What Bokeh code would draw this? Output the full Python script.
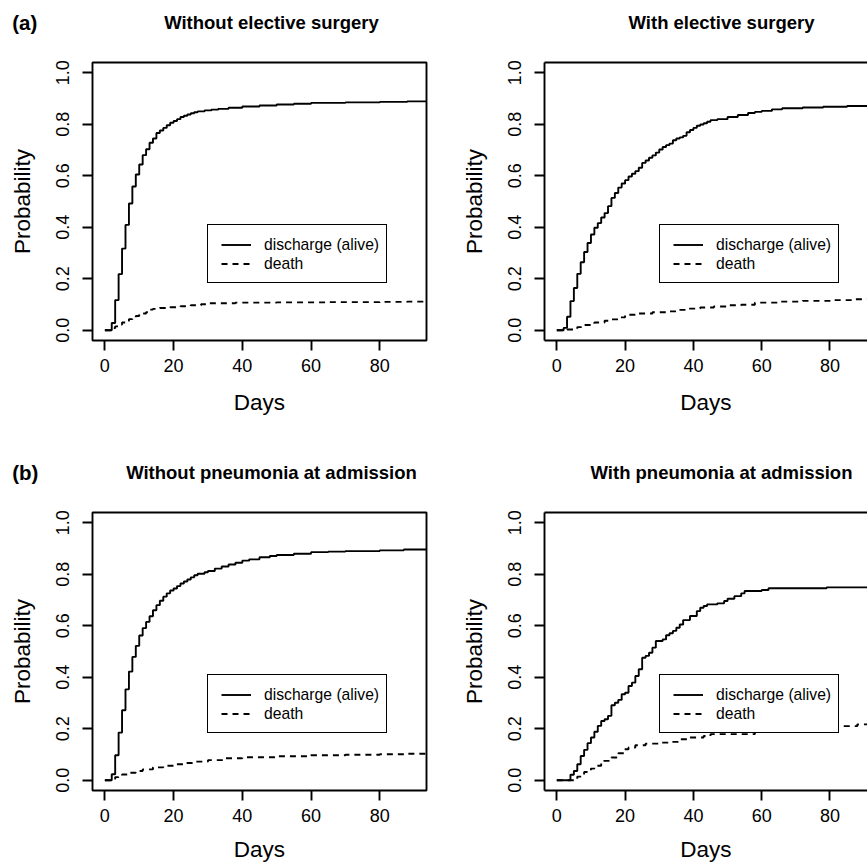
from bokeh.plotting import figure
from bokeh.models import (Range1d, FixedTicker, PrintfTickFormatter, Legend,
                          LegendItem, LinearAxis)
from bokeh.core.properties import value
from bokeh.layouts import column, row
from bokeh.embed import file_html
from bokeh.resources import INLINE

FONT = "Liberation Sans"

# ---------------- data ----------------
x_ticks = [0, 20, 40, 60, 80]
y_ticks = [0.0, 0.2, 0.4, 0.6, 0.8, 1.0]
x_label = "Days"
y_label = "Probability"
legend_labels = ["discharge (alive)", "death"]

titles = ["Without elective surgery", "With elective surgery",
          "Without pneumonia at admission", "With pneumonia at admission"]
tags = ["(a)", "", "(b)", ""]

# Panel A: without elective surgery
a_dis_t = [0, 2, 3, 4, 5, 6, 7, 8, 9, 10, 11, 12, 13, 14, 15, 16, 17, 18, 19, 20,
           21, 22, 23, 24, 25, 26, 27, 29, 31, 33, 36, 40, 45, 50, 55, 60, 70, 80, 88]
a_dis_v = [0, 0.028, 0.117, 0.218, 0.317, 0.409, 0.492, 0.558, 0.605, 0.644, 0.680,
           0.703, 0.728, 0.745, 0.766, 0.776, 0.786, 0.796, 0.806, 0.813, 0.820, 0.828,
           0.833, 0.838, 0.843, 0.847, 0.850, 0.854, 0.857, 0.860, 0.864, 0.869, 0.873,
           0.877, 0.880, 0.883, 0.885, 0.887, 0.889]
a_dth_t = [0, 2, 3, 4, 5, 6, 7, 8, 9, 10, 11, 12, 13, 14, 16, 19, 22, 25, 28, 30,
           38, 50, 65, 80, 88]
a_dth_v = [0, 0.008, 0.015, 0.022, 0.030, 0.036, 0.043, 0.049, 0.055, 0.060, 0.065,
           0.070, 0.080, 0.083, 0.086, 0.089, 0.093, 0.097, 0.101, 0.105, 0.107, 0.108,
           0.109, 0.110, 0.111]

# Panel B: with elective surgery
b_dis_t = [0, 2, 3, 4, 5, 6, 7, 8, 9, 10, 11, 12, 13, 14, 15, 16, 17, 18, 19, 20,
           21, 22, 23, 24, 25, 26, 27, 28, 29, 30, 31, 32, 33, 34, 35, 36, 37, 38, 39,
           40, 41, 42, 43, 44, 45, 47, 50, 53, 56, 58, 60, 63, 66, 72, 78, 85]
b_dis_v = [0, 0.009, 0.052, 0.113, 0.164, 0.219, 0.264, 0.304, 0.339, 0.372, 0.398,
           0.416, 0.438, 0.455, 0.482, 0.514, 0.533, 0.554, 0.570, 0.583, 0.597, 0.608,
           0.618, 0.631, 0.650, 0.659, 0.670, 0.679, 0.690, 0.702, 0.712, 0.719, 0.725,
           0.738, 0.745, 0.749, 0.755, 0.769, 0.778, 0.786, 0.794, 0.799, 0.804, 0.810,
           0.816, 0.820, 0.828, 0.836, 0.844, 0.848, 0.852, 0.858, 0.862, 0.865, 0.868,
           0.871]
b_dth_t = [0, 3, 6, 8, 11, 14, 16, 18, 20, 24, 28, 32, 35, 38, 42, 46, 50, 54, 58,
           65, 72, 80, 87]
b_dth_v = [0, 0.003, 0.012, 0.020, 0.030, 0.037, 0.042, 0.050, 0.060, 0.065, 0.070,
           0.073, 0.079, 0.084, 0.088, 0.092, 0.097, 0.099, 0.107, 0.111, 0.114, 0.117,
           0.120]

# Panel C: without pneumonia at admission
c_dis_t = [0, 2, 3, 4, 5, 6, 7, 8, 9, 10, 11, 12, 13, 14, 15, 16, 17, 18, 19, 20,
           21, 22, 23, 24, 25, 26, 27, 29, 30, 32, 34, 36, 38, 40, 42, 45, 48, 50, 55,
           60, 65, 70, 80, 87]
c_dis_v = [0, 0.023, 0.097, 0.185, 0.272, 0.353, 0.422, 0.479, 0.522, 0.562, 0.591,
           0.615, 0.637, 0.660, 0.680, 0.697, 0.713, 0.726, 0.737, 0.745, 0.754, 0.764,
           0.772, 0.780, 0.788, 0.796, 0.802, 0.808, 0.813, 0.822, 0.830, 0.838, 0.845,
           0.853, 0.858, 0.866, 0.871, 0.875, 0.880, 0.886, 0.888, 0.890, 0.893, 0.896]
c_dth_t = [0, 2, 3, 4, 5, 7, 9, 11, 14, 17, 20, 23, 26, 30, 35, 40, 50, 60, 70, 80, 88]
c_dth_v = [0, 0.005, 0.012, 0.017, 0.022, 0.029, 0.036, 0.042, 0.050, 0.056, 0.062,
           0.067, 0.072, 0.078, 0.085, 0.089, 0.093, 0.097, 0.099, 0.101, 0.103]

# Panel D: with pneumonia at admission
d_dis_t = [0, 4, 5, 6, 7, 8, 9, 10, 11, 12, 13, 14, 15, 16, 17, 18, 19, 20, 21, 22,
           23, 24, 25, 26, 27, 28, 29, 31, 32, 33, 34, 35, 36, 37, 39, 41, 42, 43, 44,
           47, 49, 50, 52, 54, 55, 60, 62, 79]
d_dis_v = [0, 0.021, 0.036, 0.062, 0.094, 0.118, 0.144, 0.166, 0.188, 0.211, 0.230,
           0.237, 0.250, 0.291, 0.301, 0.312, 0.334, 0.340, 0.366, 0.379, 0.405, 0.431,
           0.476, 0.483, 0.495, 0.515, 0.541, 0.547, 0.563, 0.571, 0.580, 0.592, 0.605,
           0.622, 0.638, 0.657, 0.670, 0.677, 0.683, 0.687, 0.696, 0.705, 0.715, 0.726,
           0.735, 0.739, 0.746, 0.749]
d_dth_t = [0, 5, 6, 8, 10, 11, 13, 16, 18, 20, 21, 23, 26, 30, 33, 36, 39, 43, 45,
           58, 63, 80, 82, 88]
d_dth_v = [0, 0.004, 0.014, 0.032, 0.045, 0.056, 0.075, 0.088, 0.105, 0.120, 0.127,
           0.136, 0.142, 0.146, 0.149, 0.159, 0.166, 0.172, 0.179, 0.191, 0.195, 0.200,
           0.210, 0.217]

series = [(a_dis_t, a_dis_v, a_dth_t, a_dth_v),
          (b_dis_t, b_dis_v, b_dth_t, b_dth_v),
          (c_dis_t, c_dis_v, c_dth_t, c_dth_v),
          (d_dis_t, d_dis_v, d_dth_t, d_dth_v)]

# ---------------- layout constants (pixels) ----------------
X_START, X_END_FULL = -3.6, 93.6
FULL_FRAME_W = 334
LEFT_W, RIGHT_W = 458, 409
LEFT_B = {False: 92, True: 84}
HEADER_H = 48
TOP_B = 14
FRAME_H = 278
TOP_PLOT_H, BOTTOM_PLOT_H = 402, 367
LINE_W = 1.9
END_DAY = 96
TITLE_CX = {False: 271, True: 263}
TAG_X = 11.7
TITLE_BASE = 26.5


def make_header(idx, width, clipped):
    h = figure(width=width, height=HEADER_H, output_backend="svg",
               toolbar_location=None, x_axis_type=None, y_axis_type=None,
               x_range=Range1d(0, width), y_range=Range1d(0, HEADER_H),
               min_border=0, outline_line_color=None,
               background_fill_color="white", border_fill_color="white")
    h.xgrid.visible = False
    h.ygrid.visible = False
    h.text(x=[TITLE_CX[clipped]], y=[TITLE_BASE], text=[titles[idx]],
           text_font=value(FONT), text_font_style="bold", text_font_size="18.5px",
           text_color="black", text_align="center", text_baseline="alphabetic")
    if tags[idx]:
        h.text(x=[TAG_X], y=[TITLE_BASE], text=[tags[idx]],
               text_font=value(FONT), text_font_style="bold",
               text_font_size="20.5px", text_color="black", text_align="left",
               text_baseline="alphabetic")
    return h


def make_panel(idx, width, height, clipped, x_label_standoff):
    dis_t, dis_v, dth_t, dth_v = series[idx]
    left_b = LEFT_B[clipped]
    right_b = 0 if clipped else width - left_b - FULL_FRAME_W
    frame_w = width - left_b - right_b
    x_end = X_START + frame_w * (X_END_FULL - X_START) / FULL_FRAME_W
    p = figure(width=width, height=height, output_backend="svg",
               toolbar_location=None,
               x_range=Range1d(X_START, x_end), y_range=Range1d(-0.04, 1.04),
               min_border_left=left_b, min_border_right=right_b,
               min_border_top=TOP_B, min_border_bottom=height - TOP_B - FRAME_H,
               background_fill_color="white", border_fill_color="white")
    p.xgrid.visible = False
    p.ygrid.visible = False

    r1 = p.step(list(dis_t) + [END_DAY], list(dis_v) + [dis_v[-1]], mode="after",
                line_color="black", line_width=LINE_W)
    r2 = p.step(list(dth_t) + [END_DAY], list(dth_v) + [dth_v[-1]], mode="after",
                line_color="black", line_width=LINE_W, line_dash="6 5")

    for ax in (p.xaxis[0], p.yaxis[0]):
        ax.major_tick_out = 10
        ax.major_tick_in = 0
        ax.minor_tick_out = 0
        ax.minor_tick_in = 0
        ax.major_tick_line_color = "black"
        ax.major_tick_line_width = LINE_W
        ax.major_label_text_font = FONT
        ax.major_label_text_font_size = "18px"
        ax.major_label_text_color = "black"
        ax.axis_label_text_font = FONT
        ax.axis_label_text_font_size = "22.5px"
        ax.axis_label_text_font_style = "normal"
        ax.axis_label_text_color = "black"
    p.xaxis.ticker = FixedTicker(ticks=x_ticks)
    p.yaxis.ticker = FixedTicker(ticks=y_ticks)
    p.yaxis.formatter = PrintfTickFormatter(format="%.1f")
    p.yaxis.major_label_orientation = "vertical"
    p.xaxis.axis_label = x_label
    p.yaxis.axis_label = y_label
    p.xaxis.major_label_standoff = 8
    p.yaxis.major_label_standoff = 13
    p.xaxis.axis_label_standoff = x_label_standoff
    p.yaxis.axis_label_standoff = 19

    if clipped:
        p.outline_line_color = None
        p.xaxis.axis_line_color = "black"
        p.yaxis.axis_line_color = "black"
        p.xaxis.axis_line_width = LINE_W
        p.yaxis.axis_line_width = LINE_W
        top = LinearAxis(ticker=FixedTicker(ticks=[]), axis_line_color="black",
                         axis_line_width=LINE_W, major_tick_line_color=None,
                         minor_tick_line_color=None, major_tick_out=0,
                         major_tick_in=0, minor_tick_out=0, minor_tick_in=0,
                         major_label_standoff=0)
        p.add_layout(top, "above")
    else:
        p.outline_line_color = "black"
        p.outline_line_width = LINE_W
        p.outline_line_alpha = 1.0
        p.xaxis.axis_line_color = None
        p.yaxis.axis_line_color = None

    legend = Legend(items=[LegendItem(label=legend_labels[0], renderers=[r1]),
                           LegendItem(label=legend_labels[1], renderers=[r2])],
                    location=(115, 57), margin=0,
                    padding=dict(left=13, right=7, top=10, bottom=9), spacing=0,
                    glyph_width=30, glyph_height=19, label_height=19,
                    label_standoff=13, label_text_font=FONT,
                    label_text_font_size="15.7px", label_text_color="black",
                    border_line_color="black", border_line_width=LINE_W,
                    border_line_alpha=1.0,
                    background_fill_color="white", background_fill_alpha=1.0)
    p.add_layout(legend)
    return p


ha = make_header(0, LEFT_W, False)
hb = make_header(1, RIGHT_W, True)
hc = make_header(2, LEFT_W, False)
hd = make_header(3, RIGHT_W, True)
pa = make_panel(0, LEFT_W, TOP_PLOT_H, False, 15)
pb = make_panel(1, RIGHT_W, TOP_PLOT_H, True, 15)
pc = make_panel(2, LEFT_W, BOTTOM_PLOT_H, False, 12)
pd = make_panel(3, RIGHT_W, BOTTOM_PLOT_H, True, 12)

layout = column(row(ha, hb), row(pa, pb), row(hc, hd), row(pc, pd))
open("out.html", "w").write(file_html(layout, INLINE))
